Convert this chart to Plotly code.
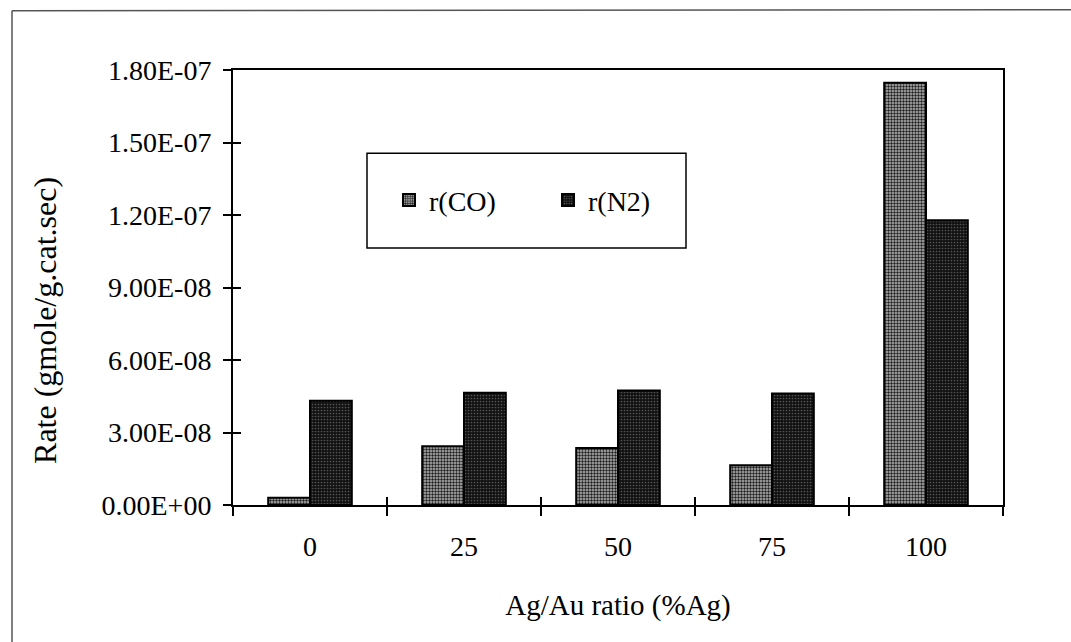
import plotly.graph_objects as go

categories = ["0", "25", "50", "75", "100"]
r_co = [3.0e-9, 2.43e-8, 2.36e-8, 1.64e-8, 1.747e-7]
r_n2 = [4.31e-8, 4.64e-8, 4.74e-8, 4.61e-8, 1.178e-7]
y_tickvals = [0, 3e-8, 6e-8, 9e-8, 1.2e-7, 1.5e-7, 1.8e-7]
y_ticktext = ["0.00E+00", "3.00E-08", "6.00E-08", "9.00E-08", "1.20E-07", "1.50E-07", "1.80E-07"]
series_names = ["r(CO)", "r(N2)"]
x_title = "Ag/Au ratio (%Ag)"
y_title = "Rate (gmole/g.cat.sec)"

W, H = 1071, 642
L, R, T, B = 233, 1003, 69.5, 505.5
FONT = "Liberation Serif"

fig = go.Figure()
fig.add_trace(go.Bar(
    x=categories, y=r_co, name=series_names[0],
    marker=dict(color="#a0a0a0", line=dict(color="black", width=2),
                pattern=dict(shape=".", fgcolor="#1e1e1e", bgcolor="#b8b8b8",
                             size=3, solidity=0.5, fillmode="replace")),
))
fig.add_trace(go.Bar(
    x=categories, y=r_n2, name=series_names[1],
    marker=dict(color="#1a1a1a", line=dict(color="black", width=2),
                pattern=dict(shape=".", fgcolor="#555555", bgcolor="#111111",
                             size=3, solidity=0.25, fillmode="replace")),
))


def px_x(v):
    return (v - L) / (R - L)


def px_y(v):
    return (B - v) / (B - T)


fig.update_layout(
    width=W, height=H,
    margin=dict(l=L, r=W - R, t=T, b=H - B, pad=0),
    paper_bgcolor="white", plot_bgcolor="white",
    font=dict(family=FONT, size=28, color="black"),
    barmode="group", bargap=0.457, bargroupgap=0,
    showlegend=True,
    legend=dict(orientation="h", x=px_x(389), y=px_y(200), yanchor="middle",
                xanchor="left", bgcolor="rgba(0,0,0,0)", borderwidth=0,
                font=dict(family=FONT, size=28), entrywidth=114,
                traceorder="normal"),
    xaxis=dict(type="category", showline=True, linecolor="black", linewidth=2,
               mirror=True, ticks="outside", ticklen=9, tickwidth=1.5,
               tickcolor="black", tickson="boundaries", showgrid=False,
               ticklabelstandoff=15,
               title=dict(text=x_title, standoff=34,
                          font=dict(family=FONT, size=29)),
               automargin=False),
    yaxis=dict(range=[0, 1.8e-7], tickvals=y_tickvals, ticktext=y_ticktext,
               showline=True, linecolor="black", linewidth=2, mirror=True,
               ticks="outside", ticklen=8, tickwidth=1.5, tickcolor="black",
               showgrid=False, zeroline=False, ticklabelstandoff=6,
               automargin=False),
    xaxis2=dict(overlaying="x", range=[-0.5, 4.5], tickvals=[-0.5, 0.5, 1.5, 2.5, 3.5, 4.5],
                ticks="inside", ticklen=8, tickwidth=1.5, tickcolor="black",
                showticklabels=False, showgrid=False, zeroline=False, showline=False,
                side="bottom"),
    yaxis2=dict(overlaying="y", range=[0, 1.8e-7], tickvals=y_tickvals,
                ticks="inside", ticklen=8, tickwidth=1.5, tickcolor="black",
                showticklabels=False, showgrid=False, zeroline=False, showline=False,
                side="left"),
    annotations=[
        dict(text=y_title, xref="paper", yref="paper", x=px_x(45), y=px_y(321),
             xanchor="center", yanchor="middle", textangle=-90, showarrow=False,
             font=dict(family=FONT, size=32, color="black")),
    ],
    shapes=[
        dict(type="rect", xref="paper", yref="paper",
             x0=px_x(367), x1=px_x(686), y0=px_y(248), y1=px_y(153),
             line=dict(color="black", width=1.5), fillcolor="rgba(0,0,0,0)", layer="above"),
        dict(type="line", xref="paper", yref="paper",
             x0=px_x(12), x1=px_x(12), y0=px_y(10), y1=px_y(700),
             line=dict(color="#555555", width=1.5), layer="below"),
        dict(type="line", xref="paper", yref="paper",
             x0=px_x(12), x1=px_x(1100), y0=px_y(10), y1=px_y(9),
             line=dict(color="#555555", width=1.5), layer="below"),
    ],
)
# make overlay axes render by attaching an invisible trace
fig.add_trace(go.Scatter(x=[0], y=[0], xaxis="x2", yaxis="y2", mode="markers",
                         marker=dict(opacity=0), showlegend=False, hoverinfo="skip"))

fig.write_html("out.html")
